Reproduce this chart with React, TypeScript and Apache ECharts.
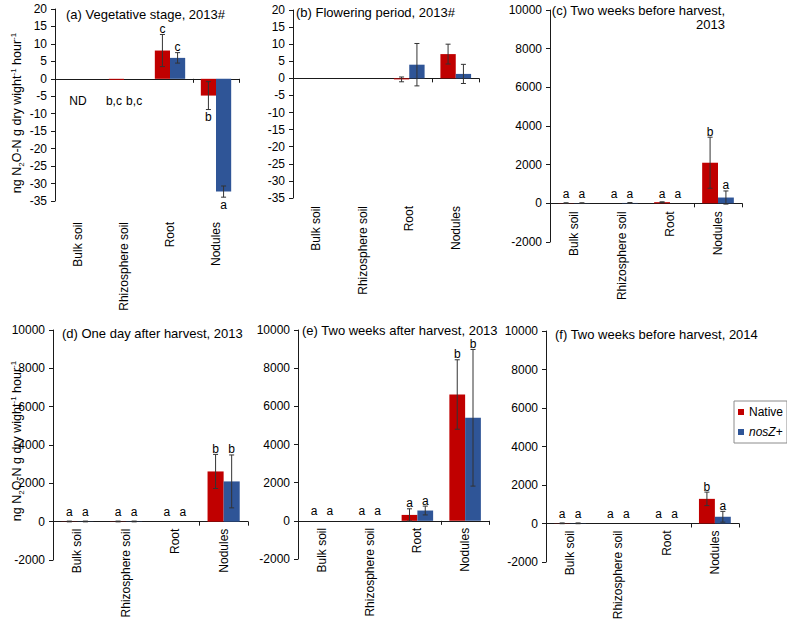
import React, { useEffect, useRef } from "react";
import * as echarts from "echarts";

const categories = ["Bulk soil", "Rhizosphere soil", "Root", "Nodules"];

// (a) Vegetative stage, 2013#
const aNative = [null, -0.3, 8.1, -4.8];
const aNativeErr = [0, 0, 4.6, 4.0];
const aNosZ = [null, 0, 6.0, -32.3];
const aNosZErr = [0, 0, 1.5, 1.6];
const aNativeLetters = ["ND", "b,c", "c", "b"];
const aNosZLetters = ["", "b,c", "c", "a"];
const aLowLabelValue = -6.3;

// (b) Flowering period, 2013#
const bNative = [null, null, -0.3, 7.1];
const bNativeErr = [0, 0, 0.7, 2.9];
const bNosZ = [null, null, 4.0, 1.3];
const bNosZErr = [0, 0, 6.2, 2.8];
const bNativeLetters = ["", "", "", ""];
const bNosZLetters = ["", "", "", ""];

// (c) Two weeks before harvest, 2013
const cNative = [10, 0, 60, 2100];
const cNativeErr = [20, 0, 20, 1320];
const cNosZ = [10, 20, 0, 300];
const cNosZErr = [20, 20, 0, 340];
const cNativeLetters = ["a", "a", "a", "b"];
const cNosZLetters = ["a", "a", "a", "a"];

// (d) One day after harvest, 2013
const dNative = [10, 10, 0, 2620];
const dNativeErr = [20, 20, 0, 890];
const dNosZ = [10, 10, 0, 2100];
const dNosZErr = [20, 20, 0, 1380];
const dNativeLetters = ["a", "a", "a", "b"];
const dNosZLetters = ["a", "a", "a", "b"];

// (e) Two weeks after harvest, 2013
const eNative = [0, 0, 310, 6620];
const eNativeErr = [0, 0, 320, 1820];
const eNosZ = [0, 0, 540, 5400];
const eNosZErr = [0, 0, 230, 3580];
const eNativeLetters = ["a", "a", "a", "b"];
const eNosZLetters = ["a", "a", "a", "b"];

// (f) Two weeks before harvest, 2014
const fNative = [10, 0, 0, 1280];
const fNativeErr = [20, 0, 0, 350];
const fNosZ = [10, 0, 0, 350];
const fNosZErr = [20, 0, 0, 280];
const fNativeLetters = ["a", "a", "a", "b"];
const fNosZLetters = ["a", "a", "a", "a"];

const smallTicks = { min: -35, max: 20, interval: 5 };
const largeTicks = { min: -2000, max: 10000, interval: 2000 };

const FONT = "'Liberation Sans', Arial, sans-serif";
const RED = "#C00000";
const BLUE = "#2F5597";
const AXIS = "#1a1a1a";
const ERR = "#333333";

type Panel = {
  title: string;
  titleX: number;
  titleY: number;
  titleAlign?: string;
  grid: { left: number; top: number; width: number; height: number };
  ticks: { min: number; max: number; interval: number };
  native: (number | null)[];
  nativeErr: number[];
  nosZ: (number | null)[];
  nosZErr: number[];
  nativeLetters: string[];
  nosZLetters: string[];
  lowLabels: boolean; // labels under plot instead of under zero line
  labelGap: number;
  lowLevel?: number;
};

const panels: Panel[] = [
  {
    title: "(a) Vegetative stage, 2013#", titleX: 66, titleY: 14,
    grid: { left: 55, top: 9, width: 184, height: 192 }, ticks: smallTicks,
    native: aNative, nativeErr: aNativeErr, nosZ: aNosZ, nosZErr: aNosZErr,
    nativeLetters: aNativeLetters, nosZLetters: aNosZLetters,
    lowLabels: true, labelGap: 21, lowLevel: aLowLabelValue,
  },
  {
    title: "(b) Flowering period, 2013#", titleX: 296, titleY: 12,
    grid: { left: 293, top: 10, width: 186, height: 188 }, ticks: smallTicks,
    native: bNative, nativeErr: bNativeErr, nosZ: bNosZ, nosZErr: bNosZErr,
    nativeLetters: bNativeLetters, nosZLetters: bNosZLetters,
    lowLabels: true, labelGap: 8,
  },
  {
    title: "(c) Two weeks before harvest,\n2013", titleX: 725, titleY: 3, titleAlign: "right",
    grid: { left: 550, top: 10, width: 192, height: 232 }, ticks: largeTicks,
    native: cNative, nativeErr: cNativeErr, nosZ: cNosZ, nosZErr: cNosZErr,
    nativeLetters: cNativeLetters, nosZLetters: cNosZLetters,
    lowLabels: false, labelGap: 8,
  },
  {
    title: "(d) One day after harvest, 2013", titleX: 62, titleY: 333,
    grid: { left: 53, top: 330, width: 195, height: 230 }, ticks: largeTicks,
    native: dNative, nativeErr: dNativeErr, nosZ: dNosZ, nosZErr: dNosZErr,
    nativeLetters: dNativeLetters, nosZLetters: dNosZLetters,
    lowLabels: false, labelGap: 7,
  },
  {
    title: "(e) Two weeks after harvest, 2013", titleX: 302, titleY: 330,
    grid: { left: 298, top: 330, width: 191, height: 229 }, ticks: largeTicks,
    native: eNative, nativeErr: eNativeErr, nosZ: eNosZ, nosZErr: eNosZErr,
    nativeLetters: eNativeLetters, nosZLetters: eNosZLetters,
    lowLabels: false, labelGap: 7,
  },
  {
    title: "(f) Two weeks before harvest, 2014", titleX: 555, titleY: 334,
    grid: { left: 546, top: 331, width: 193, height: 231 }, ticks: largeTicks,
    native: fNative, nativeErr: fNativeErr, nosZ: fNosZ, nosZErr: fNosZErr,
    nativeLetters: fNativeLetters, nosZLetters: fNosZLetters,
    lowLabels: false, labelGap: 7,
  },
];

const BAR_OFFSET = 0.165; // fraction of band width from category centre to bar centre
const LOW_LABEL_OFFSET = 0.22;

function errSeries(
  xIdx: number, yIdx: number, values: (number | null)[], errs: number[],
  letters: string[], side: number, lowLevel?: number
) {
  return {
    type: "custom",
    xAxisIndex: xIdx,
    yAxisIndex: yIdx,
    z: 10,
    silent: true,
    data: values.map((v, i) => [i, v ?? 0, errs[i]]),
    renderItem: (params: any, api: any) => {
      const i = api.value(0);
      const v = values[i];
      const e = errs[i];
      const band = api.size([1, 0])[0];
      const c = api.coord([i, 0]);
      const x = c[0] + side * band * BAR_OFFSET;
      const children: any[] = [];
      if (v != null && e > 0) {
        const top = api.coord([i, v + e])[1];
        const bot = api.coord([i, v - e])[1];
        const st = { stroke: ERR, lineWidth: 1 };
        children.push({ type: "line", shape: { x1: x, y1: top, x2: x, y2: bot }, style: st });
        children.push({ type: "line", shape: { x1: x - 2.5, y1: top, x2: x + 2.5, y2: top }, style: st });
        children.push({ type: "line", shape: { x1: x - 2.5, y1: bot, x2: x + 2.5, y2: bot }, style: st });
      }
      const letter = letters[i];
      if (letter) {
        let lx = x;
        let ly: number;
        let va = "bottom";
        if (lowLevel != null && (v == null || Math.abs(v) < 1)) {
          ly = api.coord([i, lowLevel])[1];
          va = "middle";
          lx = letter === "ND" ? c[0] : c[0] + side * band * LOW_LABEL_OFFSET;
        } else if (v != null && v < 0) {
          ly = api.coord([i, v - e])[1] + 2;
          va = "top";
        } else {
          ly = Math.min(api.coord([i, (v ?? 0) + e])[1], c[1] - 4);
          va = "bottom";
        }
        children.push({
          type: "text",
          x: lx,
          y: ly,
          style: {
            text: letter, align: "center", verticalAlign: va, lineHeight: 11,
            fontSize: 12, fontFamily: FONT, fill: "#000",
          },
        });
      }
      return { type: "group", children };
    },
  };
}

function buildOption() {
  const grid: any[] = [];
  const xAxis: any[] = [];
  const yAxis: any[] = [];
  const series: any[] = [];
  const graphic: any[] = [];

  panels.forEach((p, k) => {
    grid.push({ ...p.grid, containLabel: false });
    const mainX = xAxis.length;
    xAxis.push({
      type: "category",
      gridIndex: k,
      data: categories,
      position: "bottom",
      axisLine: { show: true, onZero: true, lineStyle: { color: AXIS, width: 1 } },
      axisTick: { show: true, inside: false, length: 4, lineStyle: { color: AXIS } },
      axisLabel: { show: false },
      splitLine: { show: false },
    });
    // label-only axis at the bottom edge of the grid
    const { min, max } = p.ticks;
    const zeroToBottom = (p.grid.height * (0 - min)) / (max - min);
    const margin = p.lowLabels ? p.labelGap : p.labelGap - zeroToBottom;
    xAxis.push({
      type: "category",
      gridIndex: k,
      data: categories,
      position: "bottom",
      axisLine: { show: false, onZero: false },
      axisTick: { show: false },
      axisLabel: {
        show: true, rotate: 90, interval: 0, margin,
        fontSize: 12, fontFamily: FONT, color: "#000",
      },
      splitLine: { show: false },
    });
    yAxis.push({
      type: "value",
      gridIndex: k,
      min: p.ticks.min,
      max: p.ticks.max,
      interval: p.ticks.interval,
      axisLine: { show: true, onZero: false, lineStyle: { color: AXIS, width: 1 } },
      axisTick: { show: true, inside: false, length: 4, lineStyle: { color: AXIS } },
      axisLabel: {
        fontSize: 12, fontFamily: FONT, color: "#000", margin: 8,
        formatter: (v: number) => String(v),
      },
      splitLine: { show: false },
    });
    series.push({
      type: "bar", name: "Native", xAxisIndex: mainX, yAxisIndex: k,
      data: p.native, barGap: "0%", barCategoryGap: "34%",
      itemStyle: { color: RED }, silent: true,
    });
    series.push({
      type: "bar", name: "nosZ+", xAxisIndex: mainX, yAxisIndex: k,
      data: p.nosZ, barGap: "0%", barCategoryGap: "34%",
      itemStyle: { color: BLUE }, silent: true,
    });
    series.push(errSeries(mainX, k, p.native, p.nativeErr, p.nativeLetters, -1, p.lowLevel));
    series.push(errSeries(mainX, k, p.nosZ, p.nosZErr, p.nosZLetters, 1, p.lowLevel));

    graphic.push({
      type: "text",
      x: p.titleX,
      y: p.titleY,
      style: {
        text: p.title,
        align: p.titleAlign ?? "left",
        verticalAlign: p.titleAlign ? "top" : "middle",
        lineHeight: 14,
        fontSize: 13,
        fontFamily: FONT,
        fill: "#000",
      },
    });
  });

  const yName = "{n|ng N}{sub|2}{n|O-N g dry wight}{sup|-1}{n| hour}{sup|-1}";
  const rich = {
    n: { fontSize: 12.5, fontFamily: FONT, fill: "#000", lineHeight: 16, verticalAlign: "middle" },
    sub: { fontSize: 8, fontFamily: FONT, fill: "#000", lineHeight: 9, verticalAlign: "bottom" },
    sup: { fontSize: 8, fontFamily: FONT, fill: "#000", lineHeight: 9, verticalAlign: "top" },
  };
  [[17, 113], [17, 441]].forEach(([x, y]) => {
    graphic.push({
      type: "text",
      x, y,
      rotation: Math.PI / 2,
      style: { text: yName, rich, align: "center", verticalAlign: "middle", fontSize: 12.5, fontFamily: FONT },
    });
  });

  return {
    animation: false,
    backgroundColor: "#fff",
    grid, xAxis, yAxis, series, graphic,
    legend: {
      data: ["Native", "nosZ+"],
      orient: "vertical",
      left: 734,
      top: 401,
      selectedMode: false,
      borderColor: "#8c8c8c",
      borderWidth: 1,
      padding: [5, 4, 5, 4],
      itemWidth: 6,
      itemHeight: 6,
      itemGap: 8,
      icon: "rect",
      formatter: (name: string) => (name === "nosZ+" ? "{i|nosZ}+" : name),
      textStyle: {
        fontSize: 12, fontFamily: FONT, color: "#000",
        rich: { i: { fontStyle: "italic", fontSize: 12, fontFamily: FONT, color: "#000" } },
      },
    },
  };
}

export default function App() {
  const ref = useRef<HTMLDivElement>(null);
  useEffect(() => {
    if (!ref.current) return;
    const chart = echarts.init(ref.current, undefined, { renderer: "svg" });
    chart.setOption(buildOption() as any);
    return () => chart.dispose();
  }, []);
  return (
    <div
      ref={ref}
      style={{ position: "absolute", left: 0, top: 0, width: 787, height: 626 }}
    />
  );
}
